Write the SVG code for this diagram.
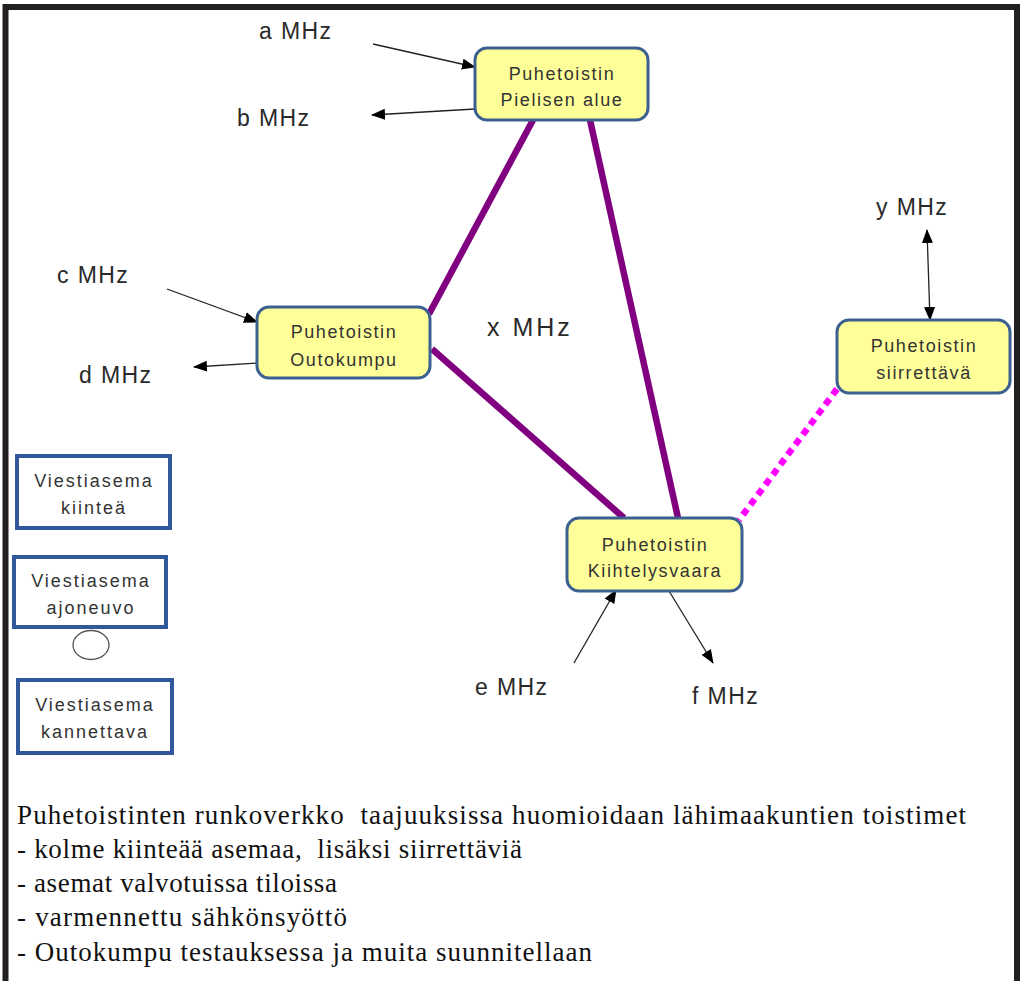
<svg xmlns="http://www.w3.org/2000/svg" width="1023" height="981" viewBox="0 0 1023 981">
<style>
.node rect{fill:#ffff99;stroke:#3c6090;stroke-width:3}
.ntext{font-family:"Liberation Sans",Arial,sans-serif;font-size:18px;fill:#333;letter-spacing:1.6px;text-anchor:middle}
.vbox rect{fill:#fff;stroke:#30589a;stroke-width:4}
.vtext{font-family:"Liberation Sans",Arial,sans-serif;font-size:18px;fill:#333;letter-spacing:2px;text-anchor:middle}
.lbl{font-family:"Liberation Sans",Arial,sans-serif;font-size:23px;fill:#2a2a2a;letter-spacing:1.4px}
.trunk{stroke:#800080;stroke-width:6.5;fill:none}
.mobile{stroke:#ff00ff;stroke-width:6.5;stroke-dasharray:7 5.5;fill:none}
.arr{stroke:#222;stroke-width:1.3;fill:none;marker-end:url(#ah)}
.body{font-family:"Liberation Serif","Times New Roman",serif;font-size:27px;fill:#111}
</style>
<defs>
<marker id="ah" markerUnits="userSpaceOnUse" markerWidth="14" markerHeight="12" refX="13" refY="5.5" orient="auto-start-reverse" viewBox="0 0 14 11">
<path d="M0,0 L14,5.5 L0,11 z" fill="#000"/>
</marker>
</defs>
<rect x="0" y="0" width="1023" height="981" fill="#fff"/>
<rect x="5.5" y="7" width="1011.5" height="990" fill="none" stroke="#231f20" stroke-width="6"/>

<g id="connectors">
<line class="trunk" x1="533" y1="120" x2="429" y2="314"/>
<line class="trunk" x1="590" y1="120" x2="678" y2="518"/>
<line class="trunk" x1="432" y1="349" x2="624" y2="518"/>
<line class="mobile" x1="837" y1="389" x2="739" y2="520"/>
<line class="arr" x1="373" y1="44" x2="475" y2="67"/>
<line class="arr" x1="475" y1="109" x2="372" y2="115"/>
<line class="arr" x1="167" y1="289" x2="257" y2="322"/>
<line class="arr" x1="258" y1="363" x2="194" y2="367"/>
<line class="arr" x1="574" y1="663" x2="616" y2="590"/>
<line class="arr" x1="669" y1="591" x2="713" y2="663"/>
<line class="arr" x1="927" y1="230" x2="930" y2="320" style="marker-start:url(#ah)"/>
</g>

<g id="labels">
<text class="lbl" x="259" y="39">a MHz</text>
<text class="lbl" x="237" y="126">b MHz</text>
<text class="lbl" x="57" y="283">c MHz</text>
<text class="lbl" x="79" y="383">d MHz</text>
<text class="lbl" x="487" y="336" style="font-size:25px;letter-spacing:3px">x MHz</text>
<text class="lbl" x="475" y="695">e MHz</text>
<text class="lbl" x="692" y="704">f MHz</text>
<text class="lbl" x="876" y="215">y MHz</text>
</g>

<g id="node-pielisen" class="node">
<rect x="475" y="48" width="173" height="72" rx="12"/>
<text class="ntext" x="562" y="80">Puhetoistin</text>
<text class="ntext" x="562" y="106">Pielisen alue</text>
</g>
<g id="node-outokumpu" class="node">
<rect x="257" y="307" width="173" height="71" rx="12"/>
<text class="ntext" x="344" y="338">Puhetoistin</text>
<text class="ntext" x="344" y="366">Outokumpu</text>
</g>
<g id="node-kiihtelysvaara" class="node">
<rect x="567" y="518" width="175" height="73" rx="12"/>
<text class="ntext" x="655" y="551">Puhetoistin</text>
<text class="ntext" x="655" y="577">Kiihtelysvaara</text>
</g>
<g id="node-siirrettava" class="node">
<rect x="837" y="320" width="173" height="73" rx="12"/>
<text class="ntext" x="924" y="352">Puhetoistin</text>
<text class="ntext" x="924" y="379">siirrettävä</text>
</g>

<g id="legend-kiintea" class="vbox">
<rect x="17" y="456" width="153" height="72"/>
<text class="vtext" x="94" y="487">Viestiasema</text>
<text class="vtext" x="94" y="514">kiinteä</text>
</g>
<g id="legend-ajoneuvo" class="vbox">
<rect x="14" y="557" width="152" height="70"/>
<text class="vtext" x="91" y="587">Viestiasema</text>
<text class="vtext" x="91" y="614">ajoneuvo</text>
</g>
<g id="legend-ellipse">
<ellipse cx="91" cy="645" rx="18" ry="14.5" fill="#fff" stroke="#555" stroke-width="1.3"/>
</g>
<g id="legend-kannettava" class="vbox">
<rect x="18" y="680" width="154" height="73"/>
<text class="vtext" x="95" y="711">Viestiasema</text>
<text class="vtext" x="95" y="738">kannettava</text>
</g>

<g id="description">
<text class="body" x="17" y="824" textLength="949" lengthAdjust="spacing" xml:space="preserve">Puhetoistinten runkoverkko  taajuuksissa huomioidaan lähimaakuntien toistimet</text>
<text class="body" x="17" y="858" textLength="505" lengthAdjust="spacing" xml:space="preserve">- kolme kiinteää asemaa,  lisäksi siirrettäviä</text>
<text class="body" x="17" y="892" textLength="320" lengthAdjust="spacing">- asemat valvotuissa tiloissa</text>
<text class="body" x="17" y="926" textLength="330" lengthAdjust="spacing">- varmennettu sähkönsyöttö</text>
<text class="body" x="17" y="961" textLength="575" lengthAdjust="spacing">- Outokumpu testauksessa ja muita suunnitellaan</text>
</g>
</svg>
